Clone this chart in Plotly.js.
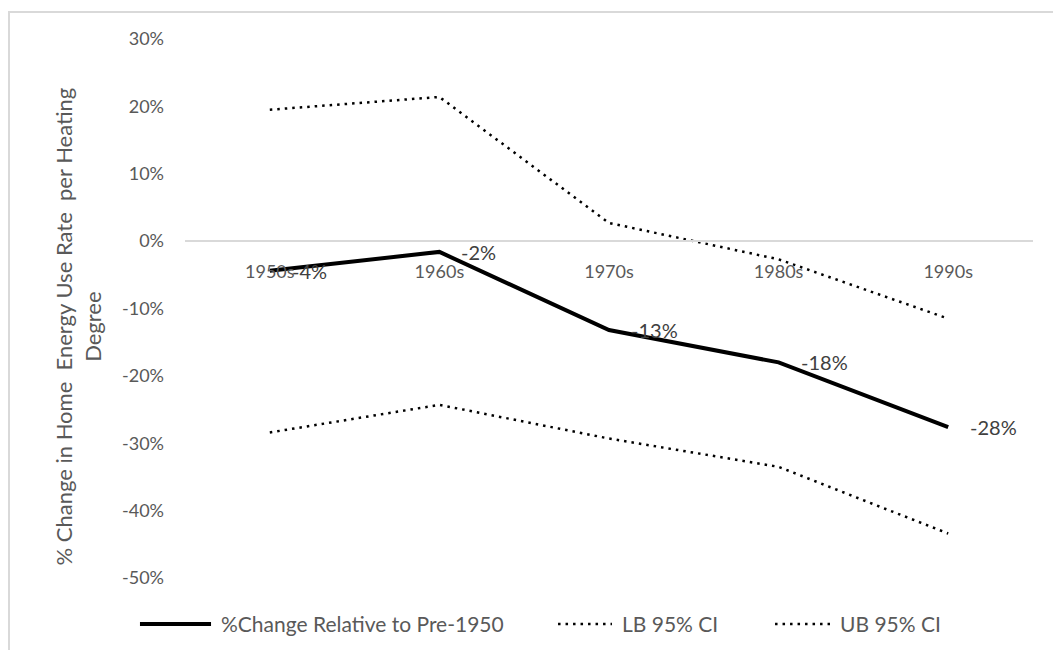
<!DOCTYPE html>
<html>
<head>
<meta charset="utf-8">
<script src="https://cdn.plot.ly/plotly-3.0.1.min.js"></script>
<style>
  html, body { margin: 0; padding: 0; background: #ffffff; }
  #wrap { position: relative; width: 1053px; height: 650px; }
  #chart { width: 1053px; height: 650px; }
  #frame { position: absolute; left: 8px; top: 11px; width: 1100px; height: 700px;
           border-left: 2px solid #d9d9d9; border-top: 2px solid #d9d9d9; pointer-events: none; }
</style>
</head>
<body>
<div id="wrap">
<div id="chart"></div>
<div id="frame"></div>
</div>
<script>
// ---- data ----
var decades = ['1950s', '1960s', '1970s', '1980s', '1990s'];
var pctChange = [-0.044, -0.016, -0.132, -0.180, -0.276];
var pctLabels = ['-4%', '-2%', '-13%', '-18%', '-28%'];
var lb95 = [-0.284, -0.243, -0.293, -0.335, -0.434];
var ub95 = [0.195, 0.214, 0.027, -0.027, -0.115];
var seriesNames = ['%Change Relative to Pre-1950', 'LB 95% CI', 'UB 95% CI'];
var yTickVals = [0.3, 0.2, 0.1, 0, -0.1, -0.2, -0.3, -0.4, -0.5];
var yTickText = ['30%', '20%', '10%', '0%', '-10%', '-20%', '-30%', '-40%', '-50%'];
var yTitle = '% Change in Home  Energy Use Rate  per Heating<br>Degree';

var textGray = '#595959';
var fontFam = 'Lato, "Open Sans", sans-serif';

var lineStyles = [
  { color: '#000000', width: 4 },
  { color: '#000000', width: 2.5, dash: '2.5px,5px' },
  { color: '#000000', width: 2.5, dash: '2.5px,5px' }
];
var seriesData = [pctChange, lb95, ub95];

var traces = seriesData.map(function (ys, i) {
  return {
    x: decades, y: ys, name: seriesNames[i], type: 'scatter', mode: 'lines',
    line: lineStyles[i], showlegend: false
  };
});

var annotations = decades.map(function (d, i) {
  return {
    x: d, y: pctChange[i], xref: 'x', yref: 'y', text: pctLabels[i],
    showarrow: false, xanchor: 'left', yanchor: 'middle', xshift: 20,
    font: { family: fontFam, size: 20, color: '#404040' }
  };
});
annotations.push({
  xref: 'paper', yref: 'paper', x: -0.1256, y: 0.4675, text: yTitle,
  showarrow: false, textangle: -90, xanchor: 'center', yanchor: 'middle',
  font: { family: fontFam, size: 22, color: textGray }
});

// custom legend (paper coordinates)
var legY = -0.0853;
var legLineX = [[-0.0531, 0.0307], [0.4399, 0.5035], [0.6958, 0.7606]];
var shapes = [];
seriesNames.forEach(function (nm, i) {
  shapes.push({
    type: 'line', xref: 'paper', yref: 'paper',
    x0: legLineX[i][0], x1: legLineX[i][1], y0: legY, y1: legY,
    line: lineStyles[i]
  });
  annotations.push({
    xref: 'paper', yref: 'paper', x: legLineX[i][1] + 0.0094, y: legY,
    text: nm, showarrow: false, xanchor: 'left', yanchor: 'middle',
    font: { family: fontFam, size: 21, color: textGray }
  });
});

var layout = {
  width: 1053, height: 650,
  margin: { l: 185, r: 20, t: 39, b: 72 },
  paper_bgcolor: '#ffffff', plot_bgcolor: '#ffffff',
  showlegend: false,
  xaxis: {
    type: 'category', range: [-0.5, 4.5], anchor: 'free', position: 0.625,
    showline: true, linecolor: '#d9d9d9', linewidth: 2, showgrid: false,
    zeroline: false, ticks: '', ticklabelstandoff: 14,
    tickfont: { family: fontFam, size: 18, color: textGray }
  },
  yaxis: {
    range: [-0.5, 0.3], tickmode: 'array', tickvals: yTickVals, ticktext: yTickText,
    showgrid: false, zeroline: false, showline: false, ticks: '', ticklabelstandoff: 20,
    tickfont: { family: fontFam, size: 18, color: textGray }
  },
  annotations: annotations,
  shapes: shapes
};

Plotly.newPlot('chart', traces, layout, { displayModeBar: false, staticPlot: true });
</script>
</body>
</html>
